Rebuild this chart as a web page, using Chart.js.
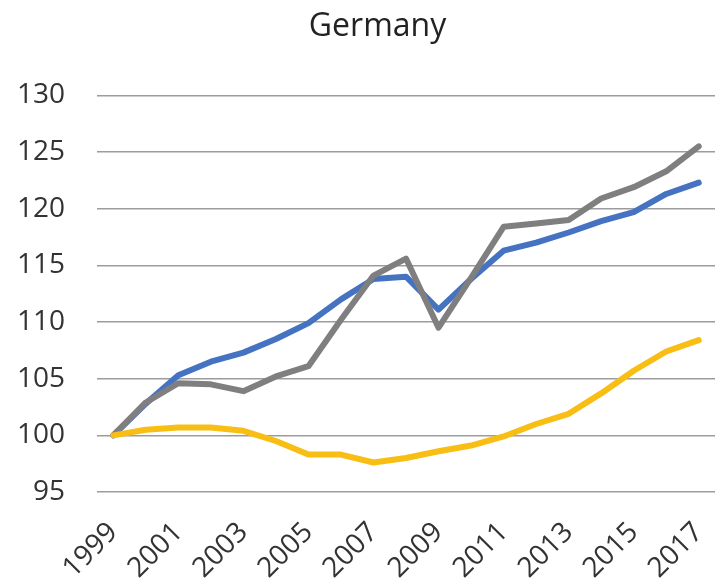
<!DOCTYPE html>
<html>
<head>
<meta charset="utf-8">
<script src="https://cdn.jsdelivr.net/npm/chart.js@4.4.1/dist/chart.umd.min.js"></script>
<style>
  html, body { margin: 0; padding: 0; background: #ffffff; }
  #wrap { width: 715px; height: 581px; position: relative; }
</style>
</head>
<body>
<div id="wrap"><canvas id="c"></canvas></div>
<script>
const title = "Germany";
const years = ["1999","2000","2001","2002","2003","2004","2005","2006","2007","2008","2009","2010","2011","2012","2013","2014","2015","2016","2017"];
const blueSeries = [100, 102.8, 105.3, 106.5, 107.3, 108.5, 109.9, 112.0, 113.8, 114.0, 111.1, 113.8, 116.3, 117.0, 117.9, 118.9, 119.7, 121.3, 122.3];
const graySeries = [100, 102.9, 104.6, 104.5, 103.9, 105.2, 106.1, 110.2, 114.1, 115.6, 109.5, 113.9, 118.4, 118.7, 119.0, 120.9, 121.9, 123.3, 125.5];
const yellowSeries = [100, 100.5, 100.7, 100.7, 100.4, 99.5, 98.3, 98.3, 97.6, 98.0, 98.6, 99.1, 99.9, 101.0, 101.9, 103.7, 105.7, 107.4, 108.4];
const yMin = 95, yMax = 130, yStep = 5;

const FONT = "'Open Sans', 'Liberation Sans', sans-serif";

function ds(label, data, color, order) {
  return {
    label, data,
    borderColor: color,
    backgroundColor: color,
    borderWidth: 6,
    pointRadius: 0,
    pointHoverRadius: 0,
    tension: 0,
    borderJoinStyle: 'round',
    borderCapStyle: 'round',
    fill: false,
    order
  };
}

// Let the y tick labels use the space left of the layout padding (keeps the title centred like the original)
const widenYLabelArea = {
  id: 'widenYLabelArea',
  afterLayout(chart) { chart.scales.y.left = 0; }
};

new Chart(document.getElementById('c'), {
  type: 'line',
  data: {
    labels: years,
    datasets: [
      ds('Blue', blueSeries, '#4573C2', 2),
      ds('Gray', graySeries, '#7F7F7F', 1),
      ds('Yellow', yellowSeries, '#F8BE14', 0)
    ]
  },
  plugins: [widenYLabelArea],
  options: {
    responsive: true,
    maintainAspectRatio: false,
    animation: false,
    layout: { padding: { left: 40, right: 0, top: 0, bottom: 0 } },
    plugins: {
      legend: { display: false },
      tooltip: { enabled: false },
      title: {
        display: true,
        text: title,
        color: '#222222',
        font: { family: FONT, size: 32, weight: 'normal' },
        padding: { top: 8, bottom: 49 }
      }
    },
    scales: {
      x: {
        type: 'category',
        offset: true,
        grid: { display: false, drawTicks: false },
        border: { display: false },
        ticks: {
          autoSkip: false,
          minRotation: 45,
          maxRotation: 45,
          padding: 24,
          color: '#333333',
          font: { family: FONT, size: 28 },
          callback: function (val, idx) { return idx % 2 === 0 ? this.getLabelForValue(val) : ''; }
        },
        afterFit: (s) => { s.height = 89; s.paddingLeft = 0; s.paddingRight = 0; }
      },
      y: {
        min: yMin,
        max: yMax,
        grid: { color: '#9c9c9c', lineWidth: 1.5, drawTicks: false },
        border: { display: false },
        ticks: {
          stepSize: yStep,
          padding: 32,
          color: '#333333',
          font: { family: FONT, size: 28 }
        },
        afterFit: (s) => { s.width = 57; s.paddingTop = 0; s.paddingBottom = 0; }
      }
    }
  }
});
</script>
</body>
</html>
